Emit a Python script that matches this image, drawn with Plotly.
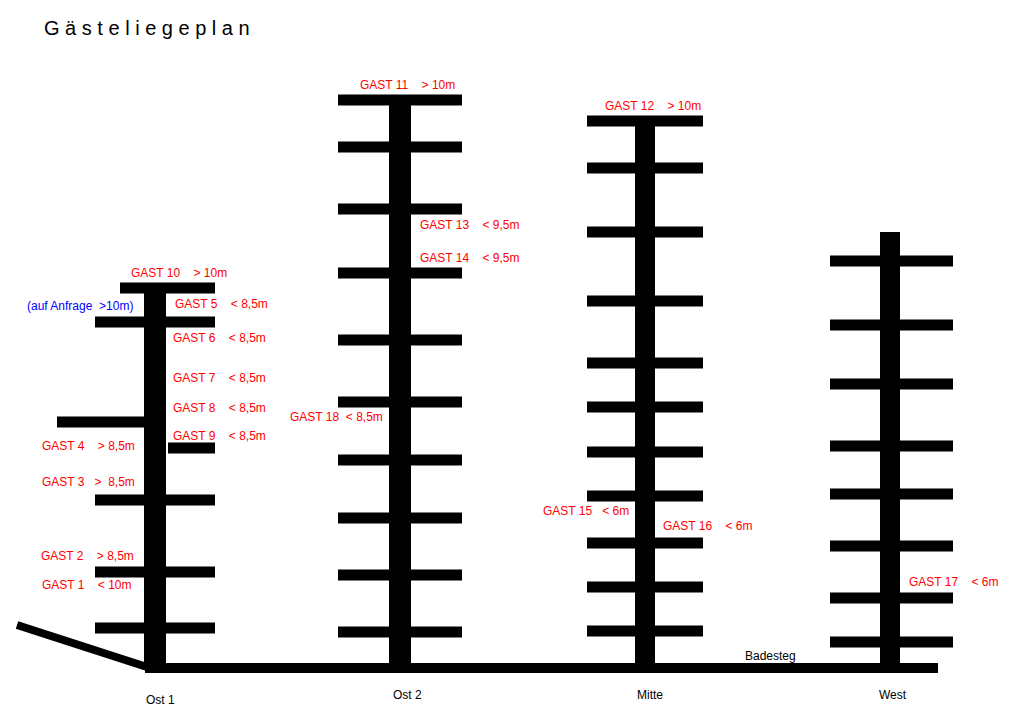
import plotly.graph_objects as go

# Piers: name, x, top y, label x, label y
pier_names = ["Ost 1", "Ost 2", "Mitte", "West"]
pier_x = [155, 400, 645, 890]
pier_top = [290, 95, 118, 232]
pier_width = [22, 22, 20, 20]
label_pos = [(160, 700), (407, 695), (650, 695), (893, 695)]
walk_y = 668

# Fingers per pier: (x0, x1, y)
fingers = {
    "Ost 1": [(120, 215, 288), (95, 215, 322), (57, 150, 422), (168, 215, 448),
              (95, 215, 500), (95, 215, 572), (95, 215, 628)],
    "Ost 2": [(338, 462, y) for y in [100, 147, 209, 273, 340, 402, 460, 518, 575, 632]],
    "Mitte": [(587, 703, y) for y in [121, 168, 232, 301, 363, 407, 452, 496, 543, 587, 631]],
    "West": [(830, 953, y) for y in [261, 325, 384, 446, 494, 546, 598, 642]],
}

guest_labels = [
    ("GAST 1    < 10m", 40, 585), ("GAST 2    > 8,5m", 39, 556),
    ("GAST 3   >  8,5m", 40, 482), ("GAST 4    > 8,5m", 40, 446),
    ("GAST 5    < 8,5m", 173, 304), ("GAST 6    < 8,5m", 171, 338),
    ("GAST 7    < 8,5m", 171, 378), ("GAST 8    < 8,5m", 171, 408),
    ("GAST 9    < 8,5m", 171, 436), ("GAST 10    > 10m", 129, 273),
    ("GAST 11    > 10m", 358, 85), ("GAST 12    > 10m", 603, 106),
    ("GAST 13    < 9,5m", 418, 225), ("GAST 14    < 9,5m", 418, 258),
    ("GAST 15   < 6m", 541, 511), ("GAST 16    < 6m", 661, 526),
    ("GAST 17    < 6m", 907, 582), ("GAST 18  < 8,5m", 288, 417),
]

fig = go.Figure()
def seg(xs, ys, w):
    fig.add_trace(go.Scatter(x=xs, y=ys, mode="lines", line=dict(color="black", width=w),
                             hoverinfo="skip", showlegend=False))

for name, x, top, w in zip(pier_names, pier_x, pier_top, pier_width):
    seg([x, x], [top, walk_y], w)
    xs, ys = [], []
    for x0, x1, y in fingers[name]:
        xs += [x0, x1, None]; ys += [y, y, None]
    seg(xs, ys, 11)
seg([145, 938], [walk_y, walk_y], 10)
seg([17, 150], [625, 668], 8)

for t, x, y in guest_labels:
    fig.add_annotation(x=x, y=y, text=t, showarrow=False, xanchor="left", yanchor="middle",
                       font=dict(color="#ff0000", size=12, family="Liberation Sans"))
for n, (x, y) in zip(pier_names, label_pos):
    fig.add_annotation(x=x, y=y, text=n, showarrow=False, xanchor="center",
                       font=dict(color="black", size=12, family="Liberation Sans"))
fig.add_annotation(x=743, y=656, text="Badesteg", showarrow=False, xanchor="left",
                   font=dict(color="black", size=12, family="Liberation Sans"))
fig.add_annotation(x=25, y=306, text="(auf Anfrage  >10m)", showarrow=False, xanchor="left",
                   font=dict(color="#0000ff", size=12, family="Liberation Sans"))
fig.add_annotation(x=2, y=213, text="<<< H A F E N E I N F A H R T", showarrow=False, xanchor="left",
                   font=dict(color="#0000ff", size=10, family="Liberation Serif"))
fig.add_annotation(x=42, y=28, text="G ä s t e l i e g e p l a n", showarrow=False, xanchor="left",
                   font=dict(color="black", size=20, family="Liberation Sans"))

fig.update_layout(width=1010, height=723, margin=dict(l=0, r=0, t=0, b=0),
                  plot_bgcolor="white", paper_bgcolor="white",
                  xaxis=dict(range=[8, 1018], visible=False, fixedrange=True),
                  yaxis=dict(range=[731, 8], visible=False, fixedrange=True))
fig.write_html("out.html")
